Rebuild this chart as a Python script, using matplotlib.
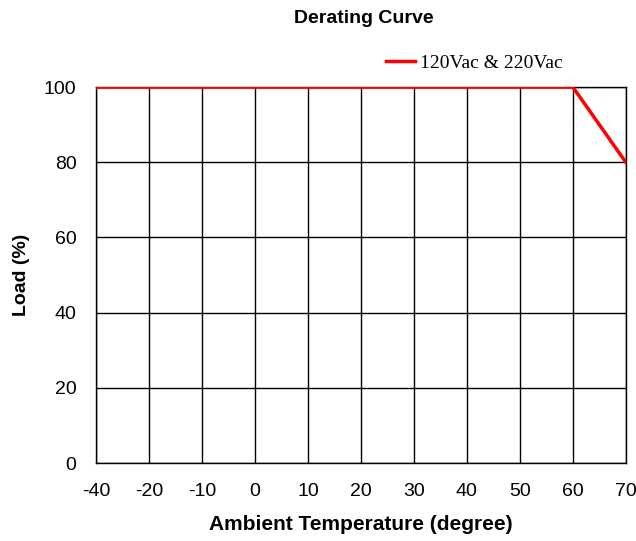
import matplotlib
matplotlib.use("Agg")
from matplotlib import pyplot as plt

# temperature categories shown on the x axis (evenly spaced)
temps = ["-40", "-20", "-10", "0", "10", "20", "30", "40", "50", "60", "70"]
# load curve in % at each category
load = [100, 100, 100, 100, 100, 100, 100, 100, 100, 100, 80]
y_ticks = [0, 20, 40, 60, 80, 100]

plt.rcParams['font.family'] = ['Liberation Sans', 'DejaVu Sans']

fig = plt.figure(figsize=(6.36, 5.41), dpi=100)
ax = fig.add_axes([0.151, 0.144, 0.833, 0.695])

xs = list(range(len(temps)))
ax.plot(xs, load, color='red', lw=2.5, label='120Vac & 220Vac', zorder=3)

ax.set_xlim(0, len(temps) - 1)
ax.set_ylim(0, 100)
ax.set_xticks(xs)
ax.set_xticklabels(temps)
ax.set_yticks(y_ticks)
ax.grid(True, color='black', lw=1)
ax.tick_params(length=0, labelsize=14, pad=14)
ax.tick_params(axis='y', pad=14)
for s in ax.spines.values():
    s.set_linewidth(1)

ax.set_xlabel('Ambient Temperature (degree)', fontsize=15, fontweight='bold', labelpad=11)
ax.set_ylabel('Load (%)', fontsize=14, fontweight='bold', labelpad=10)
fig.text(0.572, 0.966, 'Derating Curve', ha='center', va='center', fontsize=14, fontweight='bold')

leg = ax.legend(loc='lower left', bbox_to_anchor=(0.525, 1.01), frameon=False,
                prop={'family': 'Liberation Serif', 'size': 14},
                handlelength=1.5, handletextpad=0.25, borderaxespad=0.2)

fig.savefig('out.png', dpi=100)
